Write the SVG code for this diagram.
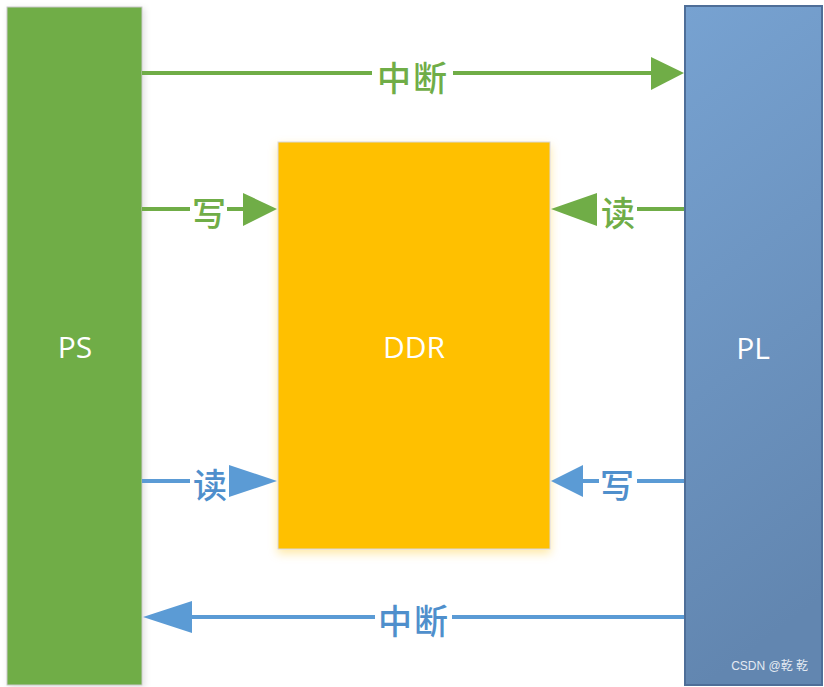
<svg xmlns="http://www.w3.org/2000/svg" width="824" height="687" viewBox="0 0 824 687">
<defs>
<linearGradient id="plg" x1="0" y1="0" x2="0.15" y2="1">
<stop offset="0" stop-color="#77A2D1"/>
<stop offset="1" stop-color="#6286B0"/>
</linearGradient>
<filter id="sh" x="-10%" y="-10%" width="120%" height="120%">
<feDropShadow dx="0" dy="4" stdDeviation="5" flood-color="#FFC000" flood-opacity="0.35"/>
</filter>
<filter id="sh2" x="-10%" y="-5%" width="120%" height="110%">
<feDropShadow dx="2" dy="2" stdDeviation="3" flood-color="#000" flood-opacity="0.12"/>
</filter>
<style>
.lbl{font-family:"Noto Sans CJK SC","Noto Sans",sans-serif;font-size:34px;font-weight:500;text-anchor:middle;dominant-baseline:central}
.box{font-family:"Open Sans","Liberation Sans",sans-serif;font-size:30px;fill:#fff;text-anchor:middle;dominant-baseline:central}
.g{stroke:#70AD47;stroke-width:4;fill:none}
.b{stroke:#5B9BD5;stroke-width:4;fill:none}
.gh{fill:#70AD47}
.bh{fill:#5B9BD5}
.gt{fill:#70AD47}
.bt{fill:#4F8FCC}
</style>
</defs>
<rect width="824" height="687" fill="#fff"/>
<g id="PS">
<rect x="7" y="7" width="135" height="678" fill="#70AD47" stroke="#C8C8C8" stroke-width="1" filter="url(#sh2)"/>
<text class="box" x="75" y="346">PS</text>
</g>
<g id="DDR">
<rect x="278" y="142" width="272" height="407" fill="#FFC000" stroke="#D8D8D8" stroke-width="1" filter="url(#sh)"/>
<text class="box" x="414" y="346">DDR</text>
</g>
<g id="PL">
<rect x="685" y="6" width="137" height="679" fill="url(#plg)" stroke="#4E6E98" stroke-width="2"/>
<text class="box" x="753" y="347">PL</text>
<text x="808" y="670" font-family="'Liberation Sans','Noto Sans CJK SC',sans-serif" font-size="12" fill="#E4EAF2" text-anchor="end">CSDN @乾 乾</text>
</g>
<g id="connectors">
<g id="top-int">
<line class="g" x1="142" y1="73" x2="372" y2="73"/>
<line class="g" x1="453" y1="73" x2="653" y2="73"/>
<polygon class="gh" points="651,57 684,73 651,90"/>
<text class="lbl gt" x="413" y="76" letter-spacing="2">中断</text>
</g>
<g id="ps-write">
<line class="g" x1="142" y1="209" x2="190" y2="209"/>
<line class="g" x1="227" y1="209" x2="245" y2="209"/>
<polygon class="gh" points="243,193 277,209 243,226"/>
<text class="lbl gt" x="209" y="211">写</text>
</g>
<g id="pl-read">
<line class="g" x1="684" y1="209" x2="637" y2="209"/>
<polygon class="gh" points="551,209 597,193 597,226"/>
<text class="lbl gt" x="618" y="211">读</text>
</g>
<g id="ps-read">
<line class="b" x1="142" y1="481" x2="190" y2="481"/>
<polygon class="bh" points="229,465 277,481 229,497"/>
<text class="lbl bt" x="210" y="483">读</text>
</g>
<g id="pl-write">
<line class="b" x1="684" y1="481" x2="637" y2="481"/>
<line class="b" x1="581" y1="481" x2="599" y2="481"/>
<polygon class="bh" points="551,481 583,465 583,497"/>
<text class="lbl bt" x="617" y="483">写</text>
</g>
<g id="bottom-int">
<line class="b" x1="190" y1="617" x2="375" y2="617"/>
<line class="b" x1="452" y1="617" x2="684" y2="617"/>
<polygon class="bh" points="143,617 192,601 192,633"/>
<text class="lbl bt" x="414" y="619" letter-spacing="2">中断</text>
</g>
</g>
</svg>
